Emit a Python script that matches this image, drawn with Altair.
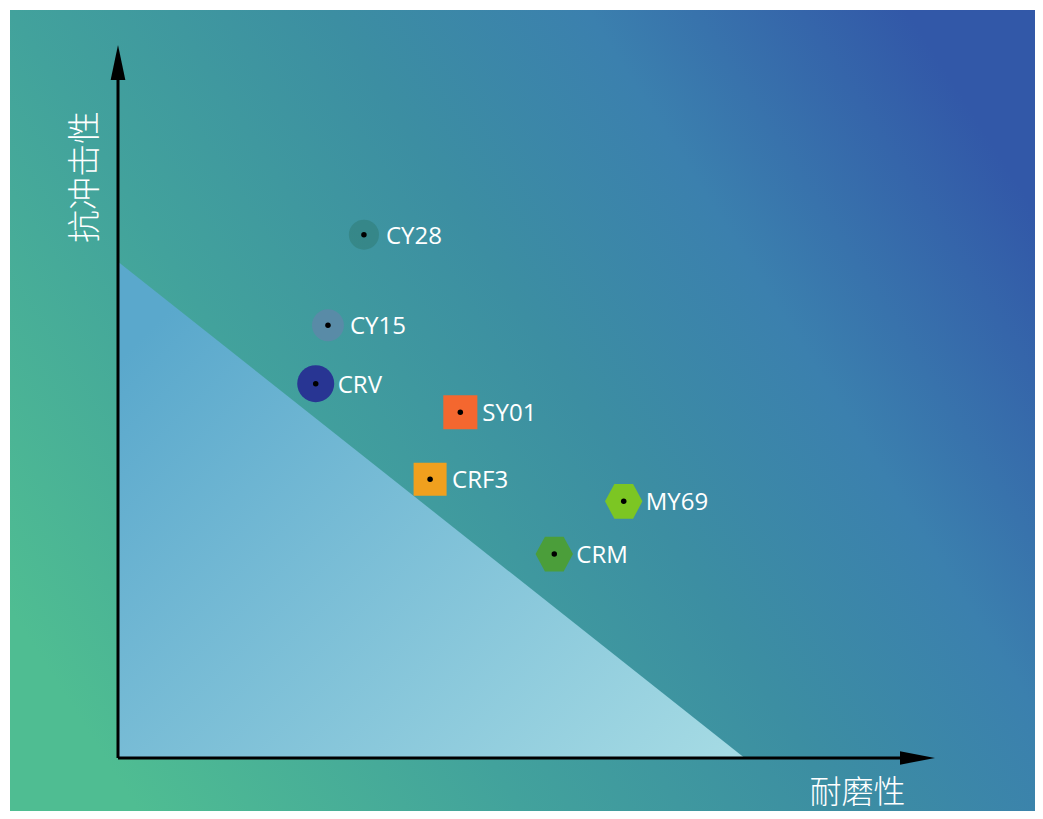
import altair as alt
import pandas as pd

# ---- data ----
names = ["CY28", "CY15", "CRV", "SY01", "CRF3", "MY69", "CRM"]
wear = [3.01, 2.57, 2.42, 4.19, 3.82, 6.19, 5.34]          # 耐磨性
impact = [7.34, 6.07, 5.25, 4.85, 3.91, 3.60, 2.86]        # 抗冲击性
HEX = "M-1,0L-0.5,-0.93L0.5,-0.93L1,0L0.5,0.93L-0.5,0.93Z"
shapes = ["circle", "circle", "circle", "square", "square", HEX, HEX]
colors = ["#1f5e44", "#5e88a8", "#283593", "#f4672f", "#f0a01e", "#7cc623", "#4b9e3a"]
sizes = [900, 1020, 1369, 1160, 1090, 1400, 1400]
opac = [0.25, 0.85, 1.0, 1.0, 1.0, 1.0, 1.0]

# lighter triangle region (two corners on the axes)
tri_x = [0.0, 7.67]
tri_y = [6.96, 0.0]

axis_len = [10.0]          # both arrows run from 0 to 10
x_title = ["耐磨性"]
y_title = ["抗冲击性"]

X_DOM = [-1.322, 11.224]
Y_DOM = [-0.743, 10.491]

pts = pd.DataFrame({"name": names, "x": wear, "y": impact, "shape": shapes,
                    "color": colors, "size": sizes, "op": opac})
tri = pd.DataFrame({"x": tri_x, "y": tri_y})
axes = pd.DataFrame({"len": axis_len, "zero": [0.0]})
bgdf = pd.DataFrame({"x0": [X_DOM[0]], "x1": [X_DOM[1]], "y0": [Y_DOM[0]], "y1": [Y_DOM[1]]})

xs = alt.Scale(domain=X_DOM, nice=False, zero=False)
ys = alt.Scale(domain=Y_DOM, nice=False, zero=False)

bg_grad = {
    "gradient": "linear", "x1": 0, "y1": 0.75, "x2": 1, "y2": 0.25,
    "stops": [
        {"offset": 0.0, "color": "#4fbd92"},
        {"offset": 0.3, "color": "#42a29c"},
        {"offset": 0.55, "color": "#3c8ea2"},
        {"offset": 0.75, "color": "#3b80ae"},
        {"offset": 1.0, "color": "#3258a8"},
    ],
}
tri_grad = {
    "gradient": "linear", "x1": 0, "y1": 0.2, "x2": 1, "y2": 1,
    "stops": [
        {"offset": 0.0, "color": "#5aa8cc"},
        {"offset": 1.0, "color": "#a6dbe4"},
    ],
}

base_x = alt.X("x:Q", scale=xs, axis=None)
base_y = alt.Y("y:Q", scale=ys, axis=None)

background = alt.Chart(bgdf).mark_rect(color=bg_grad, opacity=1).encode(
    x=alt.X("x0:Q", scale=xs, axis=None), x2="x1:Q",
    y=alt.Y("y0:Q", scale=ys, axis=None), y2="y1:Q",
)

triangle = alt.Chart(tri).mark_area(color=tri_grad, line=False, opacity=1).encode(
    x=base_x, y=base_y, y2=alt.datum(0)
)

x_axis_line = alt.Chart(axes).mark_rule(color="black", strokeWidth=3).encode(
    x=alt.X("zero:Q", scale=xs, axis=None),
    x2=alt.X2("tip:Q"),
    y=alt.Y("zero:Q", scale=ys, axis=None),
).transform_calculate(tip="datum.len * 0.97")

y_axis_line = alt.Chart(axes).mark_rule(color="black", strokeWidth=3).encode(
    y=alt.Y("zero:Q", scale=ys, axis=None),
    y2=alt.Y2("tip:Q"),
    x=alt.X("zero:Q", scale=xs, axis=None),
).transform_calculate(tip="datum.len * 0.97")

x_arrow = alt.Chart(axes).mark_point(
    shape="M0,0L-2,-0.38L-2,0.38Z", filled=True, color="black", opacity=1, size=1225
).encode(x=alt.X("len:Q", scale=xs, axis=None), y=alt.Y("zero:Q", scale=ys, axis=None))

y_arrow = alt.Chart(axes).mark_point(
    shape="M0,0L0.42,2L-0.42,2Z", filled=True, color="black", opacity=1, size=1225
).encode(y=alt.Y("len:Q", scale=ys, axis=None), x=alt.X("zero:Q", scale=xs, axis=None))

markers = alt.Chart(pts).mark_point(filled=True, strokeWidth=0).encode(
    x=base_x, y=base_y,
    shape=alt.Shape("shape:N", scale=None, legend=None),
    color=alt.Color("color:N", scale=None, legend=None),
    size=alt.Size("size:Q", scale=None, legend=None),
    opacity=alt.Opacity("op:Q", scale=None, legend=None),
)

dots = alt.Chart(pts).mark_point(filled=True, shape="circle", color="black",
                                 opacity=1, size=30).encode(x=base_x, y=base_y)

labels = alt.Chart(pts).mark_text(
    align="left", baseline="middle", dx=22, dy=2, fontSize=24,
    font="Open Sans", color="white"
).encode(x=base_x, y=base_y, text="name:N")

titles = pd.DataFrame({"t": x_title + y_title, "x": [9.05, -0.39], "y": [-0.49, 8.15]})

x_t = alt.Chart(titles.iloc[[0]]).mark_text(
    align="center", baseline="middle", fontSize=32, font="Noto Sans CJK SC",
    fontWeight=300, color="white"
).encode(x=base_x, y=base_y, text="t:N")

y_t = alt.Chart(titles.iloc[[1]]).mark_text(
    align="center", baseline="middle", fontSize=33, font="Noto Sans CJK SC",
    fontWeight=300, color="white", angle=270
).encode(x=base_x, y=base_y, text="t:N")

chart = alt.layer(
    background, triangle, x_axis_line, y_axis_line, x_arrow, y_arrow,
    markers, dots, labels, x_t, y_t
).properties(
    width=1025, height=801,
    padding={"left": 2, "top": 2, "right": 0, "bottom": 0},
    autosize=alt.AutoSizeParams(type="none"),
).configure_view(strokeWidth=0)

chart.save("out.html", embed_options={"renderer": "svg", "actions": False})
